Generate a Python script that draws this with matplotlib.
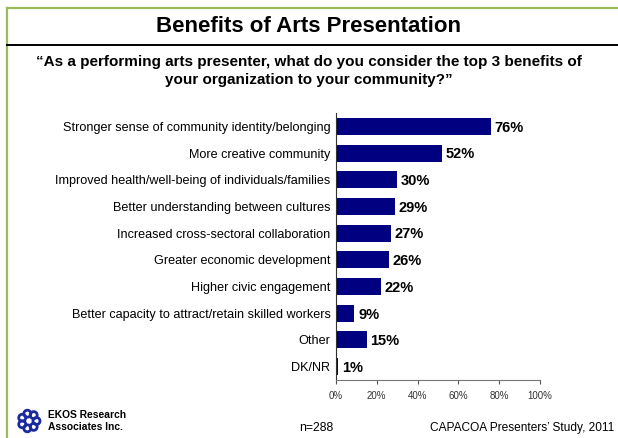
import matplotlib.pyplot as plt
import matplotlib.patches as mpatches
import numpy as np

plt.rcParams['font.family'] = ['Liberation Sans', 'DejaVu Sans']

categories = [
    'Stronger sense of community identity/belonging',
    'More creative community',
    'Improved health/well-being of individuals/families',
    'Better understanding between cultures',
    'Increased cross-sectoral collaboration',
    'Greater economic development',
    'Higher civic engagement',
    'Better capacity to attract/retain skilled workers',
    'Other',
    'DK/NR',
]
values = [76, 52, 30, 29, 27, 26, 22, 9, 15, 1]
xticks = [0, 20, 40, 60, 80, 100]

W, H = 618, 438
fig = plt.figure(figsize=(W / 100, H / 100), dpi=100)

def fx(px):
    return px / W

def fy(py):
    return 1 - py / H

# frame: green border left/top, black rule under the title
green = '#9bbb59'
fig.add_artist(plt.Line2D([fx(7), fx(7)], [fy(7.5), 0], color=green, lw=1.6))
fig.add_artist(plt.Line2D([fx(7), 1], [fy(7.5), fy(7.5)], color=green, lw=1.6))
fig.add_artist(plt.Line2D([fx(7), 1], [fy(45), fy(45)], color='black', lw=1.4))

fig.text(0.5, fy(27), 'Benefits of Arts Presentation', ha='center', va='center',
         fontsize=16, fontweight='bold')
fig.text(0.5, fy(71), '\u201cAs a performing arts presenter, what do you consider the top 3 benefits of\n'
         'your organization to your community?\u201d', ha='center', va='center',
         fontsize=11, fontweight='bold', linespacing=1.45)

ax = fig.add_axes([fx(336), fy(380), fx(540) - fx(336), fy(113) - fy(380)])
y = np.arange(len(categories))
ax.barh(y, values, height=0.64, color='#000080')
for yi, v in zip(y, values):
    ax.text(v + 1.8, yi + 0.05, f'{v}%', va='center', ha='left', fontsize=10.5, fontweight='bold')

ax.set_ylim(len(categories) - 0.5, -0.5)
ax.set_xlim(0, 100)
ax.set_yticks(y)
ax.set_yticklabels(categories, fontsize=9.1)
ax.tick_params(axis='y', length=0, pad=4)
ax.set_xticks(xticks)
ax.set_xticklabels([f'{t}%' for t in xticks], fontsize=7, color='#333333')
ax.tick_params(axis='x', length=3, color='#555555', pad=5)
for s in ['top', 'right']:
    ax.spines[s].set_visible(False)
ax.spines['left'].set_color('#333333')
ax.spines['bottom'].set_color('#777777')

# footer
fig.text(fx(48), fy(421), 'EKOS Research\nAssociates Inc.', ha='left', va='center',
         fontsize=7.4, fontweight='bold', linespacing=1.2)
fig.text(fx(316), fy(428), 'n=288', ha='center', va='center', fontsize=8.8)
fig.text(fx(614), fy(428), 'CAPACOA Presenters\u2019 Study, 2011', ha='right', va='center', fontsize=8.6)

# small knot logo
cx, cy = 29, 421
for a in np.linspace(0, 2 * np.pi, 8)[:-1]:
    px = cx + 7.5 * np.cos(a)
    py = cy + 7.5 * np.sin(a)
    fig.add_artist(mpatches.Ellipse((fx(px), fy(py)), fx(7), 7 / H, fill=False,
                                    edgecolor='#1a2a9c', lw=2))

fig.savefig('out.png', dpi=100)
